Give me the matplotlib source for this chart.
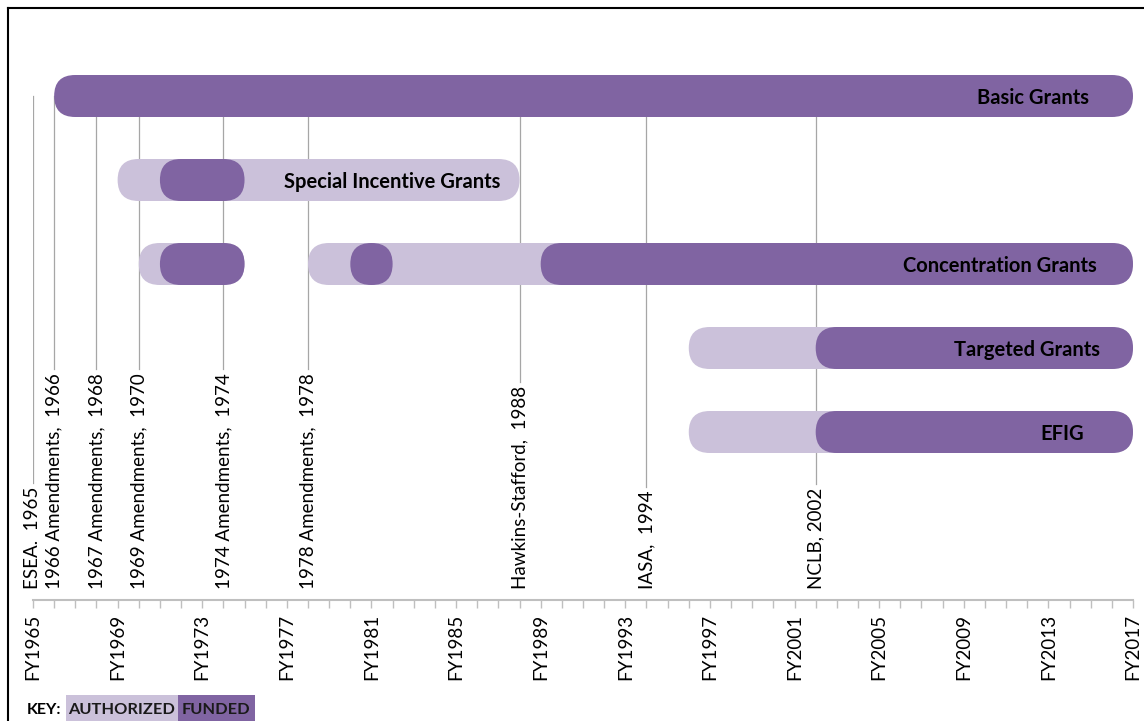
import matplotlib
matplotlib.use("Agg")
import matplotlib.pyplot as plt
from matplotlib.patches import FancyBboxPatch, Rectangle
from matplotlib.lines import Line2D

plt.rcParams['font.family'] = ['Lato', 'DejaVu Sans']

# programs, top to bottom
programs = ["Basic Grants", "Special Incentive Grants", "Concentration Grants",
            "Targeted Grants", "EFIG"]
# (start, end) fiscal years of each span
authorized = [[],
              [(1969, 1988)],
              [(1970, 1975), (1978, 2017)],
              [(1996, 2017)],
              [(1996, 2017)]]
funded = [[(1966, 2017)],
          [(1971, 1975)],
          [(1971, 1975), (1980, 1982), (1989, 2017)],
          [(2002, 2017)],
          [(2002, 2017)]]
label_x = [2014.9, 1987.1, 2015.3, 2015.45, 2014.7]

event_years = [1965, 1966, 1968, 1970, 1974, 1978, 1988, 1994, 2002]
event_labels = ["ESEA.  1965", "1966 Amendments,  1966", "1967 Amendments,  1968",
                "1969 Amendments,  1970", "1974 Amendments,  1974",
                "1978 Amendments,  1978", "Hawkins-Stafford,  1988",
                "IASA,  1994", "NCLB, 2002"]

tick_years = list(range(1965, 2018))
tick_labels = ["FY%d" % y if (y - 1965) % 4 == 0 else "" for y in tick_years]

LIGHT = "#cbc1da"
DARK = "#8064a2"

W, H = 1144, 721
fig = plt.figure(figsize=(W / 100, H / 100), dpi=100)
# axes in pixel terms: x 33..1133, y 60..600
ax_l, ax_r, ax_t, ax_b = 33, 1133, 60, 600
ax = fig.add_axes([ax_l / W, (H - ax_b) / H, (ax_r - ax_l) / W, (ax_b - ax_t) / H])
ax.set_xlim(1965, 2017)
row_px = 84
ax.set_ylim((ax_b - 96) / row_px, (ax_t - 96) / row_px)

# y units per x unit, so the caps come out round
px_per_year = (ax_r - ax_l) / (2017 - 1965)
aspect = px_per_year / row_px
half_h = 21 / row_px


def pill(x0, x1, row, color):
    p = FancyBboxPatch((x0, row - half_h), x1 - x0, 2 * half_h,
                       boxstyle="round,pad=0,rounding_size=%f" % (half_h / aspect),
                       mutation_aspect=aspect, fc=color, ec="none", zorder=3)
    ax.add_patch(p)


for i, name in enumerate(programs):
    for x0, x1 in authorized[i]:
        pill(x0, x1, i, LIGHT)
    for x0, x1 in funded[i]:
        pill(x0, x1, i, DARK)
    ax.text(label_x[i], i + 0.02, name, ha="right", va="center", fontsize=14.5,
            fontweight="bold", color="black", zorder=5)

# event labels, then lines down to them
label_y = (589 - 96) / row_px
texts = []
for yr, lab in zip(event_years, event_labels):
    t = ax.text(yr, label_y, lab, rotation=90, ha="center", va="bottom",
                fontsize=13.5, color="black", zorder=4)
    texts.append(t)

fig.canvas.draw()
inv = ax.transData.inverted()
for yr, t in zip(event_years, texts):
    bb = t.get_window_extent()
    top = inv.transform((0, bb.y1 + 4))[1]
    ax.plot([yr, yr], [0, top], color="#a6a6a6", lw=0.9, zorder=1)

# x axis
for s in ["top", "left", "right"]:
    ax.spines[s].set_visible(False)
ax.spines["bottom"].set_color("#bfbfbf")
ax.spines["bottom"].set_linewidth(1.5)
ax.set_yticks([])
ax.set_xticks(tick_years)
ax.set_xticklabels(tick_labels, rotation=90, fontsize=13.5)
ax.tick_params(axis="x", length=6, width=1, color="#bfbfbf", pad=4)

# key
fig.text(27 / W, 1 - 710 / H, "KEY:", fontsize=11.5, fontweight="bold", va="center")
fig.patches.append(Rectangle((66 / W, 0), 112 / W, 26 / H, transform=fig.transFigure,
                             fc=LIGHT, ec="none", figure=fig))
fig.patches.append(Rectangle((178 / W, 0), 77 / W, 26 / H, transform=fig.transFigure,
                             fc=DARK, ec="none", figure=fig))
fig.text(122 / W, 1 - 710 / H, "AUTHORIZED", fontsize=11.8, fontweight="bold",
         ha="center", va="center", color="#1a1a1a")
fig.text(216 / W, 1 - 710 / H, "FUNDED", fontsize=11.8, fontweight="bold",
         ha="center", va="center", color="#1a1a1a")

# frame at left and top
fig.lines.append(Line2D([7.5 / W, 7.5 / W], [0, 1 - 7.5 / H], transform=fig.transFigure,
                        color="black", lw=1.5))
fig.lines.append(Line2D([7.5 / W, 1], [1 - 7.5 / H, 1 - 7.5 / H], transform=fig.transFigure,
                        color="black", lw=1.5))

fig.savefig("out.png", dpi=100)
